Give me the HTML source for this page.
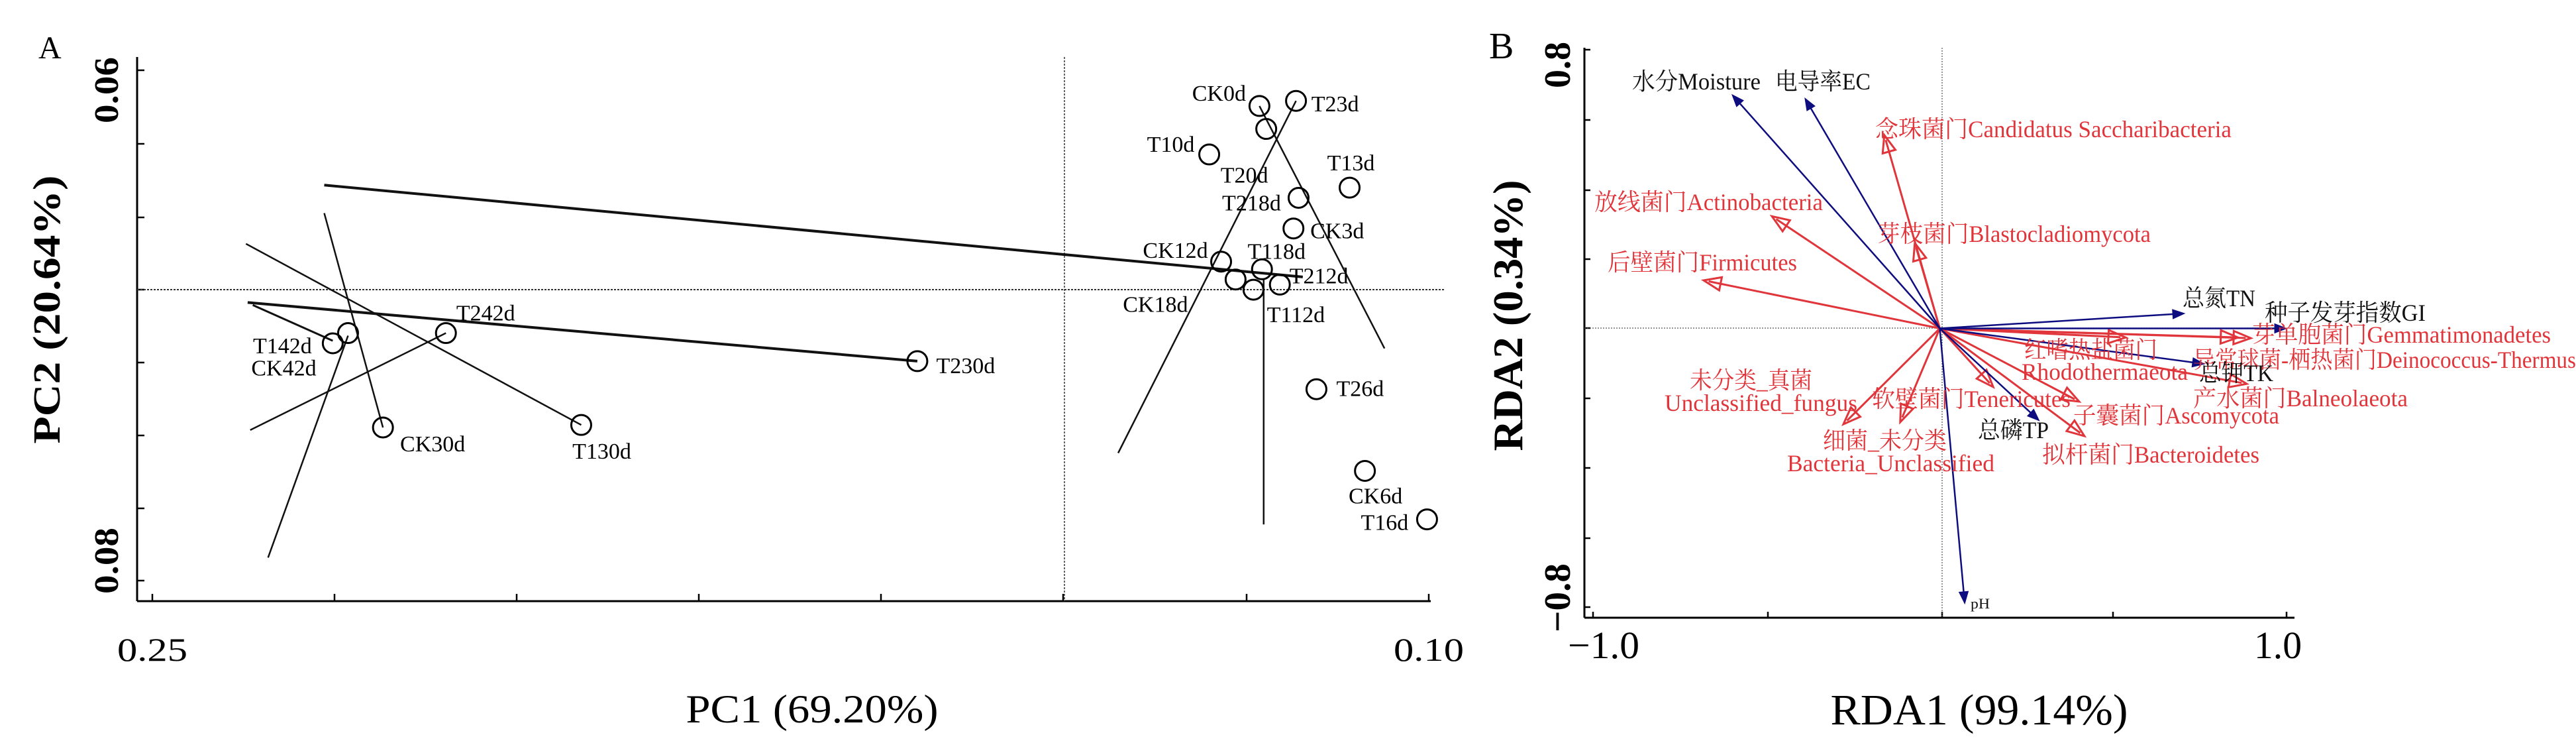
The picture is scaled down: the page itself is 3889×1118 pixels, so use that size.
<!DOCTYPE html>
<html><head><meta charset="utf-8"><style>
html,body{margin:0;padding:0;background:#fff;}
svg{display:block;}
text{font-family:"Liberation Serif","Noto Serif CJK SC","Noto Sans CJK SC",serif;}
</style></head>
<body>
<svg id="fig" width="3889" height="1118" viewBox="0 0 3889 1118" xmlns="http://www.w3.org/2000/svg">
<g id="panelA"></g>
<g id="panelB"></g>
</svg>
<script>
// ---------- Panel A data (PCA) ----------
const pcaNames = ["CK0d","T23d","T20d","T10d","T13d","T218d","CK3d","CK12d","T118d","CK18d","T212d","T112d","T26d","CK6d","T16d","T142d","CK42d","T242d","CK30d","T130d","T230d"];
const pcaPC1 = [0.1199,0.1156,0.1191,0.1258,0.1093,0.1153,0.1159,0.1244,0.1196,0.1227,0.1175,0.1206,0.1132,0.1075,0.1002,0.2288,0.2270,0.2155,0.2229,0.1996,0.1601];
const pcaPC2 = [0.0614,0.0612,0.0623,0.0633,0.0646,0.0650,0.0662,0.0675,0.0678,0.0682,0.0684,0.0686,0.0725,0.0757,0.0776,0.0707,0.0703,0.0703,0.0740,0.0739,0.0714];
const pcaLabelDX = [-61,59,-33,-58,2,-71,66,-69,22,-121,59,64,66,16,-64,-76,-97,60,75,31,73];
const pcaLabelDY = [-20,4,69,-16,-38,7,3,-18,-28,37,-14,37,-2,37,4,3,52,-31,24,39,6];
const pcaLineX1 = [0.2298,0.2388,0.2382,0.2298,0.2390,0.2385,0.2364,0.1365,0.1199,0.1194];
const pcaLineY1 = [0.0645,0.0691,0.0692,0.0656,0.0668,0.0741,0.0791,0.0750,0.0614,0.0682];
const pcaLineX2 = [0.1148,0.1601,0.2288,0.2229,0.1996,0.2155,0.2270,0.1156,0.1052,0.1194];
const pcaLineY2 = [0.0681,0.0714,0.0706,0.0740,0.0739,0.0703,0.0704,0.0612,0.0709,0.0778];
const pcaLineW = [4,4,3,2.5,2.5,2.5,2.5,2.5,2.5,2.5];
const pcaXTicks = [0.25,0.10];

// ---------- Panel B data (RDA) ----------
const envNames = ["水分Moisture","电导率EC","总氮TN","种子发芽指数GI","总钾TK","总磷TP","pH"];
const envX = [-0.599,-0.389,0.706,1.0,0.763,0.287,0.072];
const envY = [0.671,0.661,0.043,0.0,-0.102,-0.265,-0.790];
const taxaNames = ["Candidatus Saccharibacteria","Actinobacteria","Blastocladiomycota","Firmicutes","Gemmatimonadetes","Deinococcus-Thermus","Balneolaeota","Rhodothermaeota","Tenericutes","Ascomycota","Bacteroidetes","Unclassified_fungus","Bacteria_Unclassified"];
const taxaX = [-0.160,-0.484,-0.072,-0.681,0.897,0.860,0.885,0.536,0.154,0.402,0.417,-0.278,-0.114];
const taxaY = [0.555,0.322,0.245,0.138,-0.028,-0.026,-0.159,-0.026,-0.168,-0.210,-0.309,-0.275,-0.269];
const rdaTicks = [-1.0,1.0];

const NS = "http://www.w3.org/2000/svg";
function mk(parent, tag, attrs, txt){
  const e = document.createElementNS(NS, tag);
  for (const k in attrs) e.setAttribute(k, attrs[k]);
  if (txt !== undefined) e.textContent = txt;
  parent.appendChild(e);
  return e;
}

// ===== Panel A =====
const A = document.getElementById('panelA');
const ax = v => 230 + (0.25 - v) / 0.15 * 1927;
const ay = v => 106 + (v - 0.06) / 0.02 * 770;

let e;
e = mk(A,'text',{x:58,y:88,'font-size':48},'A');
 
e = mk(A,'line',{x1:207,y1:86,x2:207,y2:907,stroke:'#000','stroke-width':3});
 
e = mk(A,'line',{x1:207,y1:907,x2:2160,y2:907,stroke:'#000','stroke-width':3});
 
[106,217,328,437,547,657,767,876].forEach(y=>{
  const t = mk(A,'line',{x1:207,y1:y,x2:218,y2:y,stroke:'#000','stroke-width':2.5});
   
});
[230,505,780,1055,1330,1605,1882,2157].forEach(x=>{
  const t = mk(A,'line',{x1:x,y1:907,x2:x,y2:896,stroke:'#000','stroke-width':2.5});
   
});
e = mk(A,'line',{x1:1607,y1:86,x2:1607,y2:907,stroke:'#333','stroke-width':1.5,'stroke-dasharray':'3,2'});
 
e = mk(A,'line',{x1:207,y1:437,x2:2180,y2:437,stroke:'#333','stroke-width':2,'stroke-dasharray':'3,2'});
 
pcaXTicks.forEach((v,i)=>{
  const t = mk(A,'text',{x:ax(v),y:997,'font-size':50,'text-anchor':'middle',textLength:106,lengthAdjust:'spacingAndGlyphs'}, v.toFixed(2));
   
});
e = mk(A,'text',{x:0,y:0,'font-size':52,'font-weight':'bold','text-anchor':'middle',textLength:100,lengthAdjust:'spacingAndGlyphs',transform:'translate(178,136) rotate(-90)'},'0.06');
 
e = mk(A,'text',{x:0,y:0,'font-size':52,'font-weight':'bold','text-anchor':'middle',textLength:100,lengthAdjust:'spacingAndGlyphs',transform:'translate(178,846) rotate(-90)'},'0.08');
 
e = mk(A,'text',{x:1226,y:1090,'font-size':60,'text-anchor':'middle',textLength:381,lengthAdjust:'spacingAndGlyphs'},'PC1  (69.20%)');
 
e = mk(A,'text',{x:0,y:0,'font-size':58,'font-weight':'600','text-anchor':'middle',textLength:405,lengthAdjust:'spacingAndGlyphs',transform:'translate(90,467) rotate(-90)'},'PC2   (20.64%)');
 
for (let i=0;i<pcaLineX1.length;i++){
  const l = mk(A,'line',{x1:ax(pcaLineX1[i]),y1:ay(pcaLineY1[i]),x2:ax(pcaLineX2[i]),y2:ay(pcaLineY2[i]),stroke:'#111','stroke-width':pcaLineW[i]});
   
}
for (let i=0;i<pcaNames.length;i++){
  const cx = ax(pcaPC1[i]), cy = ay(pcaPC2[i]);
  const c = mk(A,'ellipse',{cx:cx,cy:cy,rx:15,ry:15,fill:'none',stroke:'#000','stroke-width':3});
   
  const t = mk(A,'text',{x:cx+pcaLabelDX[i],y:cy+pcaLabelDY[i]+12,'font-size':34,'text-anchor':'middle'},pcaNames[i]);
   
}

// ===== Panel B =====
const B = document.getElementById('panelB');
const bx = v => 2928.5 + v * 523.5;
const by = v => 495.5 - v * 525.6;
const ox = bx(0), oy = by(0);

e = mk(B,'text',{x:2248,y:88,'font-size':56},'B');
 
e = mk(B,'line',{x1:2392,y1:72,x2:2392,y2:932,stroke:'#000','stroke-width':3});
 
e = mk(B,'line',{x1:2392,y1:932,x2:3464,y2:932,stroke:'#000','stroke-width':3});
 
[75,181,287,391,495,601,706,812,916].forEach(y=>{
  const t = mk(B,'line',{x1:2392,y1:y,x2:2401,y2:y,stroke:'#000','stroke-width':2.5});
   
});
[2405,2669,2932,3190,3452].forEach(x=>{
  const t = mk(B,'line',{x1:x,y1:932,x2:x,y2:923,stroke:'#000','stroke-width':2.5});
   
});
e = mk(B,'line',{x1:2932,y1:72,x2:2932,y2:932,stroke:'#555','stroke-width':1.2,'stroke-dasharray':'2,2'});
 
e = mk(B,'line',{x1:2392,y1:495,x2:3462,y2:495,stroke:'#555','stroke-width':1.2,'stroke-dasharray':'2,2'});
 
rdaTicks.forEach((v,i)=>{
  const t = mk(B,'text',{x:bx(v)+(i===0?16:-13),y:993,'font-size':58,'text-anchor':'middle',textLength:(i===0?108:72),lengthAdjust:'spacingAndGlyphs'}, (v<0?'−':'')+Math.abs(v).toFixed(1));
   
});
e = mk(B,'text',{x:0,y:0,'font-size':56,'font-weight':'bold','text-anchor':'middle',textLength:70,lengthAdjust:'spacingAndGlyphs',transform:'translate(2370,98) rotate(-90)'},'0.8');
 
e = mk(B,'text',{x:0,y:0,'font-size':56,'font-weight':'bold','text-anchor':'middle',textLength:104,lengthAdjust:'spacingAndGlyphs',transform:'translate(2370,902) rotate(-90)'},'−0.8');
 
e = mk(B,'text',{x:2988,y:1093,'font-size':66,'text-anchor':'middle',textLength:449,lengthAdjust:'spacingAndGlyphs'},'RDA1   (99.14%)');
 
e = mk(B,'text',{x:0,y:0,'font-size':64,'font-weight':'600','text-anchor':'middle',textLength:409,lengthAdjust:'spacingAndGlyphs',transform:'translate(2298,476) rotate(-90)'},'RDA2   (0.34%)');
 

const RED = '#e0353a', BLUE = '#0d0d80';
function arrow(x2,y2,color,filled,name){
  const g = mk(B,'g',{});
   
  const dx = x2-ox, dy = y2-oy, L = Math.hypot(dx,dy), ux=dx/L, uy=dy/L;
  const hl = filled?18:26, hw = filled?7:10;
  const bxp = x2-ux*hl, byp = y2-uy*hl;
  mk(g,'line',{x1:ox,y1:oy,x2:filled?bxp:x2-ux*hl*0.3,y2:filled?byp:y2-uy*hl*0.3,stroke:color,'stroke-width':filled?2.5:3});
  const pts = [x2,y2,bxp-uy*hw,byp+ux*hw,bxp+uy*hw,byp-ux*hw].map(v=>v.toFixed(1));
  mk(g,'polygon',{points:pts[0]+','+pts[1]+' '+pts[2]+','+pts[3]+' '+pts[4]+','+pts[5],fill:filled?color:'#fff','fill-opacity':filled?1:0,stroke:color,'stroke-width':filled?1:3});
}
for (let i=0;i<taxaX.length;i++) arrow(bx(taxaX[i]),by(taxaY[i]),RED,false,'taxon-arrow');
for (let i=0;i<envX.length;i++) arrow(bx(envX[i]),by(envY[i]),BLUE,true,'env-arrow');

const bLabels = [
 ["水分Moisture",2464,135,194,'#111',36],
 ["电导率EC",2680,135,144,'#111',36],
 ["念珠菌门Candidatus Saccharibacteria",2831,207,538,RED,36],
 ["放线菌门Actinobacteria",2407,317,345,RED,36],
 ["芽枝菌门Blastocladiomycota",2834,365,413,RED,36],
 ["后壁菌门Firmicutes",2427,408,286,RED,36],
 ["总氮TN",3295,462,110,'#111',36],
 ["种子发芽指数GI",3419,484,243,'#111',36],
 ["芽单胞菌门Gemmatimonadetes",3400,517,451,RED,36],
 ["红嗜热盐菌门",3056,540,201,RED,36],
 ["异常球菌-栖热菌门Deinococcus-Thermus",3311,555,578,RED,36],
 ["Rhodothermaeota",3052,573,251,RED,36],
 ["总钾TK",3320,575,112,'#111',36],
 ["产水菌门Balneolaeota",3311,613,324,RED,36],
 ["未分类_真菌",2551,586,185,RED,36],
 ["Unclassified_fungus",2513,620,291,RED,36],
 ["软壁菌门Tenericutes",2826,614,300,RED,36],
 ["子囊菌门Ascomycota",3130,639,311,RED,36],
 ["总磷TP",2986,661,107,'#111',36],
 ["细菌_未分类",2752,677,187,RED,36],
 ["Bacteria_Unclassified",2698,711,313,RED,36],
 ["拟杆菌门Bacteroidetes",3083,698,328,RED,36],
 ["pH",2975,918,29,'#111',22]
];
bLabels.forEach(l=>{
  const t = mk(B,'text',{x:l[1],y:l[2],'font-size':l[5],fill:l[4],textLength:l[3],lengthAdjust:'spacingAndGlyphs'},l[0]);
   
});
</script>
</body></html>
